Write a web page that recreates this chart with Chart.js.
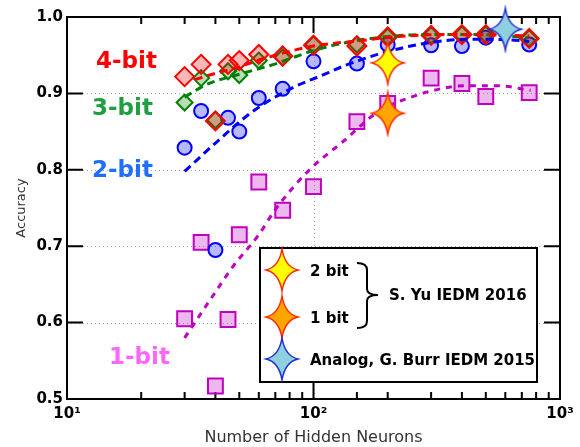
<!DOCTYPE html>
<html>
<head>
<meta charset="utf-8">
<script src="https://cdn.jsdelivr.net/npm/chart.js@4.4.0/dist/chart.umd.min.js"></script>
<style>
  html, body { margin: 0; padding: 0; background: #fff; }
</style>
</head>
<body>
<canvas id="chart" width="580" height="447"></canvas>
<script>
// measured accuracies vs number of hidden neurons
const neurons = [30, 35, 40, 45, 50, 60, 75, 100, 150, 200, 300, 400, 500, 750];
const acc4bit = [0.922, 0.938, 0.864, 0.938, 0.943, 0.951, 0.949, 0.963, 0.962, 0.974, 0.976, 0.977, 0.977, 0.972];
const acc3bit = [0.888, 0.920, 0.865, 0.929, 0.924, 0.943, 0.947, 0.964, 0.964, 0.974, 0.976, 0.977, 0.977, 0.972];
const acc2bit = [0.829, 0.877, 0.695, 0.868, 0.850, 0.894, 0.906, 0.942, 0.939, 0.964, 0.963, 0.962, 0.973, 0.964];
const acc1bit = [0.605, 0.705, 0.517, 0.604, 0.715, 0.784, 0.747, 0.778, 0.863, 0.887, 0.920, 0.913, 0.896, 0.901];

// fitted trend curves
const fit4X = [33, 37, 50, 65, 100, 155, 212, 339, 630, 750];
const fit4Y = [0.918, 0.923, 0.935, 0.947, 0.962, 0.969, 0.974, 0.977, 0.976, 0.975];
const fit3X = [30, 37, 50, 69, 100, 133, 182, 289, 464, 740];
const fit3Y = [0.895, 0.912, 0.925, 0.938, 0.956, 0.966, 0.973, 0.977, 0.977, 0.973];
const fit2X = [30, 41, 57, 83, 107, 133, 182, 248, 339, 464, 630, 750];
const fit2Y = [0.798, 0.838, 0.877, 0.908, 0.923, 0.936, 0.951, 0.962, 0.969, 0.971, 0.970, 0.968];
const fit1X = [30, 40, 47, 60, 70, 97, 133, 181, 248, 339, 408, 558, 760];
const fit1Y = [0.580, 0.640, 0.673, 0.715, 0.748, 0.801, 0.838, 0.875, 0.895, 0.907, 0.910, 0.910, 0.904];

// reference results (stars)
const refLabels = ["2 bit", "1 bit", "Analog, G. Burr IEDM 2015"];
const refX = [200, 200, 600];
const refY = [0.940, 0.874, 0.984];

const yTickValues = [0.5, 0.6, 0.7, 0.8, 0.9, 1.0];
const xTickText = { 10: "10\u00b9", 100: "10\u00b2", 1000: "10\u00b3" };

const FONT = "DejaVu Sans";

function pts(xs, ys) {
  return xs.map((x, i) => ({ x, y: ys[i] }));
}

function makeStar(fill, stroke) {
  const c = document.createElement("canvas");
  c.width = 38; c.height = 48;
  const g = c.getContext("2d");
  const cx = 19, cy = 24, w = 16, h = 21, k = 3;
  g.beginPath();
  g.moveTo(cx, cy - h);
  g.quadraticCurveTo(cx + k, cy - k, cx + w, cy);
  g.quadraticCurveTo(cx + k, cy + k, cx, cy + h);
  g.quadraticCurveTo(cx - k, cy + k, cx - w, cy);
  g.quadraticCurveTo(cx - k, cy - k, cx, cy - h);
  g.closePath();
  g.fillStyle = fill;
  g.fill();
  g.lineWidth = 1.5;
  g.strokeStyle = stroke;
  g.stroke();
  return c;
}

const star2 = makeStar("#ffff00", "#ff2a00");
const star1 = makeStar("#ffa500", "#ff2a00");
const starA = makeStar("#8ecfe0", "#1f2fd0");
const starImgs = [star2, star1, starA];

function fitLine(xs, ys, color, dash) {
  return {
    data: pts(xs, ys),
    showLine: true,
    borderColor: color,
    borderWidth: 3,
    borderDash: dash,
    pointRadius: 0,
    cubicInterpolationMode: "monotone",
    fill: false,
    order: 1
  };
}

function markers(ys, style, radius, edge, fill, order) {
  return {
    data: pts(neurons, ys),
    pointStyle: style,
    pointRadius: radius,
    borderWidth: 2,
    borderColor: edge,
    backgroundColor: fill,
    showLine: false,
    order: order
  };
}

// frame, dotted grid and inward ticks
const framePlugin = {
  id: "frame",
  beforeDatasetsDraw(chart) {
    const { ctx, chartArea: a, scales } = chart;
    const x = scales.x, y = scales.y;
    ctx.save();
    ctx.strokeStyle = "#aaa";
    ctx.lineWidth = 1;
    ctx.setLineDash([1, 3]);
    ctx.beginPath();
    [0.6, 0.7, 0.8, 0.9].forEach(v => {
      const py = Math.round(y.getPixelForValue(v)) + 0.5;
      ctx.moveTo(a.left, py); ctx.lineTo(a.right, py);
    });
    const gx = Math.round(x.getPixelForValue(100)) + 0.5;
    ctx.moveTo(gx, a.top); ctx.lineTo(gx, a.bottom);
    ctx.stroke();
    ctx.setLineDash([]);

    ctx.strokeStyle = "#000";
    ctx.lineWidth = 2;
    ctx.beginPath();
    x.ticks.forEach(t => {
      const px = x.getPixelForValue(t.value);
      const major = Math.abs(Math.log10(t.value) % 1) < 1e-6;
      const len = major ? 16 : 7;
      ctx.moveTo(px, a.bottom); ctx.lineTo(px, a.bottom - len);
      ctx.moveTo(px, a.top); ctx.lineTo(px, a.top + len);
    });
    [0.6, 0.7, 0.8, 0.9].forEach(v => {
      const py = y.getPixelForValue(v);
      ctx.moveTo(a.left, py); ctx.lineTo(a.left + 16, py);
      ctx.moveTo(a.right, py); ctx.lineTo(a.right - 16, py);
    });
    ctx.stroke();
    ctx.strokeRect(a.left, a.top, a.right - a.left, a.bottom - a.top);
    ctx.restore();
  },
  afterDatasetsDraw(chart) {
    const ctx = chart.ctx;
    ctx.save();
    // series labels
    ctx.font = "bold 23px " + FONT;
    ctx.textBaseline = "middle";
    ctx.textAlign = "left";
    [["4-bit", "#ff0000", 96, 62], ["3-bit", "#1ea040", 92, 109],
     ["2-bit", "#1f6fff", 92, 171], ["1-bit", "#ff66ff", 109, 358]].forEach(l => {
      ctx.fillStyle = l[1];
      ctx.fillText(l[0], l[2], l[3]);
    });

    // legend box
    const bx = 260, by = 248, bw = 277, bh = 134;
    ctx.fillStyle = "#fff";
    ctx.fillRect(bx, by, bw, bh);
    ctx.strokeStyle = "#000";
    ctx.lineWidth = 2;
    ctx.strokeRect(bx, by, bw, bh);
    const rows = [270, 317, 359];
    rows.forEach((ry, i) => {
      const img = starImgs[i];
      ctx.drawImage(img, 282 - img.width / 2, ry - img.height / 2);
      ctx.fillStyle = "#000";
      ctx.font = "bold 15px " + FONT;
      ctx.fillText(refLabels[i], 310, ry + 2);
    });
    // brace
    ctx.beginPath();
    ctx.lineWidth = 2;
    ctx.moveTo(357, 263);
    ctx.quadraticCurveTo(367, 263, 367, 270);
    ctx.lineTo(367, 289);
    ctx.quadraticCurveTo(367, 295, 378, 295);
    ctx.quadraticCurveTo(367, 295, 367, 301);
    ctx.lineTo(367, 321);
    ctx.quadraticCurveTo(367, 328, 357, 328);
    ctx.stroke();
    ctx.fillText("S. Yu IEDM 2016", 389, 296);
    ctx.restore();
  }
};

new Chart(document.getElementById("chart").getContext("2d"), {
  type: "scatter",
  data: {
    datasets: [
      {
        data: pts(refX, refY),
        pointStyle: starImgs,
        pointRadius: 16,
        showLine: false,
        clip: false,
        order: 0
      },
      fitLine(fit4X, fit4Y, "#ff0000", [8, 5]),
      fitLine(fit3X, fit3Y, "#008000", [8, 5]),
      fitLine(fit2X, fit2Y, "#0000ff", [8, 5]),
      fitLine(fit1X, fit1Y, "#bf00bf", [6, 6]),
      markers(acc4bit, "rectRot", 9.5, "#ff0000", "rgba(255,0,0,0.28)", 2),
      markers(acc3bit, "rectRot", 8, "#008000", "rgba(0,128,0,0.28)", 3),
      markers(acc2bit, "circle", 7, "#0000ff", "rgba(0,0,255,0.28)", 4),
      markers(acc1bit, "rect", 10.5, "#bf00bf", "rgba(191,0,191,0.28)", 5)
    ]
  },
  options: {
    responsive: false,
    animation: false,
    layout: { padding: { top: 16, right: 20, left: 0, bottom: 0 } },
    plugins: { legend: { display: false }, tooltip: { enabled: false } },
    scales: {
      x: {
        type: "logarithmic",
        min: 10,
        max: 1000,
        grid: { display: false, drawTicks: false },
        border: { display: false },
        ticks: {
          autoSkip: false,
          maxRotation: 0,
          padding: 6,
          color: "#000",
          font: { family: FONT, weight: "bold", size: 15 },
          callback: v => xTickText[v] || ""
        },
        title: {
          display: true,
          text: "Number of Hidden Neurons",
          color: "#333",
          font: { family: FONT, size: 16 },
          padding: { top: 0, bottom: 0 }
        },
        afterFit: s => { s.height = 48; }
      },
      y: {
        min: 0.5,
        max: 1.0,
        grid: { display: false, drawTicks: false },
        border: { display: false },
        afterBuildTicks: s => { s.ticks = yTickValues.map(v => ({ value: v })); },
        ticks: {
          padding: 4,
          color: "#000",
          font: { family: FONT, weight: "bold", size: 15 },
          callback: v => v.toFixed(1)
        },
        title: {
          display: true,
          text: "Accuracy",
          color: "#333",
          font: { family: FONT, size: 13 },
          padding: { top: 14, bottom: 0 }
        },
        afterFit: s => { s.width = 67; }
      }
    }
  },
  plugins: [framePlugin]
});
</script>
</body>
</html>
